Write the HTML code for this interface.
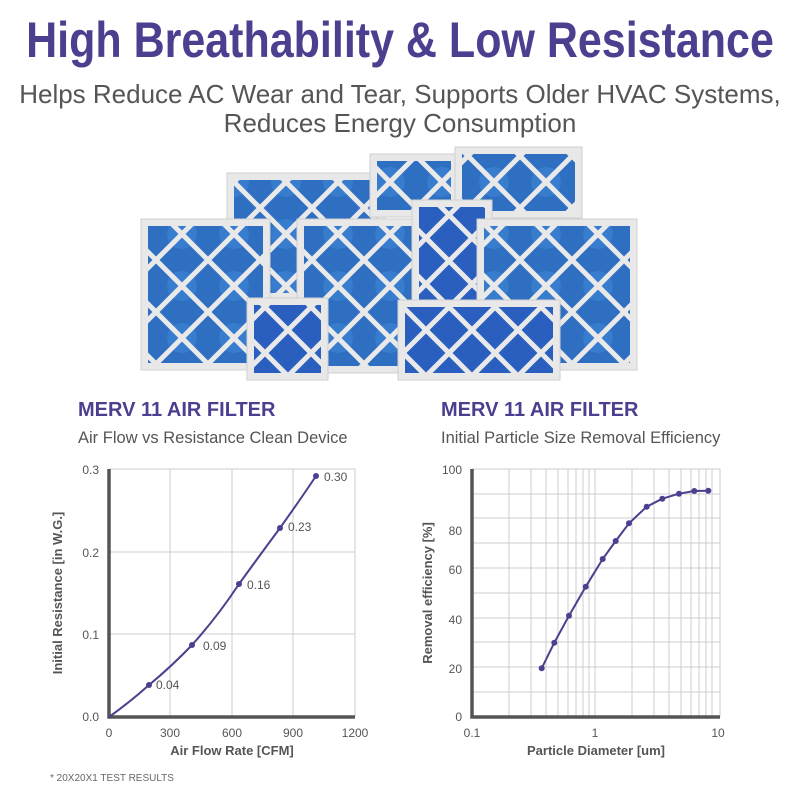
<!DOCTYPE html>
<html><head><meta charset="utf-8"><style>
body{margin:0;background:#fff;width:800px;height:800px;overflow:hidden;font-family:"Liberation Sans",sans-serif}
</style></head><body>
<svg width="800" height="800" xmlns="http://www.w3.org/2000/svg" font-family="Liberation Sans, sans-serif">
<defs>
<pattern id="lat" width="52" height="52" patternUnits="userSpaceOnUse">
<rect width="52" height="52" fill="#2f6fc2"/>
<circle cx="26" cy="26" r="15" fill="#3d86d6" opacity="0.6"/>
<path d="M0 0L52 52M52 0L0 52" stroke="#e9e9e9" stroke-width="5"/>
</pattern>
<pattern id="lat2" width="46" height="46" patternUnits="userSpaceOnUse" x="12" y="8">
<rect width="46" height="46" fill="#2a5fbf"/>
<path d="M0 0L46 46M46 0L0 46" stroke="#e9e9e9" stroke-width="5"/>
</pattern>
</defs>
<g transform="translate(400,57) scale(0.86,1)"><text x="0" y="0" text-anchor="middle" font-size="50" font-weight="bold" fill="#4b3f8f">High Breathability &amp; Low Resistance</text></g>
<text x="400" y="103" text-anchor="middle" font-size="26" fill="#555">Helps Reduce AC Wear and Tear, Supports Older HVAC Systems,</text>
<text x="400" y="132" text-anchor="middle" font-size="26" fill="#555">Reduces Energy Consumption</text>

<g stroke="#cfcfcf" stroke-width="1">
<rect x="227" y="173" width="158" height="127" fill="#e8e8e8"/><rect x="234" y="180" width="144" height="113" fill="url(#lat)" stroke="none"/>
<rect x="370" y="154" width="88" height="63" fill="#e8e8e8"/><rect x="377" y="161" width="74" height="49" fill="url(#lat)" stroke="none"/>
<rect x="455" y="147" width="127" height="71" fill="#e8e8e8"/><rect x="462" y="154" width="113" height="57" fill="url(#lat)" stroke="none"/>
<rect x="141" y="219" width="129" height="151" fill="#e8e8e8"/><rect x="148" y="226" width="115" height="137" fill="url(#lat)" stroke="none"/>
<rect x="297" y="219" width="128" height="154" fill="#e8e8e8"/><rect x="304" y="226" width="114" height="140" fill="url(#lat)" stroke="none"/>
<rect x="412" y="200" width="80" height="107" fill="#e8e8e8"/><rect x="419" y="207" width="66" height="93" fill="url(#lat2)" stroke="none"/>
<rect x="477" y="219" width="160" height="151" fill="#e8e8e8"/><rect x="484" y="226" width="146" height="137" fill="url(#lat)" stroke="none"/>
<rect x="247" y="298" width="81" height="82" fill="#e8e8e8"/><rect x="254" y="305" width="67" height="68" fill="url(#lat2)" stroke="none"/>
<rect x="398" y="300" width="162" height="80" fill="#e8e8e8"/><rect x="405" y="307" width="148" height="66" fill="url(#lat2)" stroke="none"/>
</g>

<text x="78" y="416" font-size="20" font-weight="bold" fill="#4b3f8f">MERV 11 AIR FILTER</text>
<text x="78" y="443" font-size="16.5" fill="#555">Air Flow vs Resistance Clean Device</text>
<text x="441" y="416" font-size="20" font-weight="bold" fill="#4b3f8f">MERV 11 AIR FILTER</text>
<text x="441" y="443" font-size="16.5" fill="#555">Initial Particle Size Removal Efficiency</text>

<!-- left chart -->
<g stroke="#ccc" stroke-width="1" fill="none">
<path d="M170 469V717M232 469V717M293 469V717M355 469V717M109 469H355M109 552H355M109 634H355"/>
</g>
<path d="M109 469V717H355" stroke="#555" stroke-width="3.5" fill="none"/>
<g font-size="12" fill="#555" text-anchor="end">
<text x="99" y="474">0.3</text><text x="99" y="557">0.2</text><text x="99" y="639">0.1</text><text x="99" y="721">0.0</text>
</g>
<g font-size="12" fill="#555" text-anchor="middle">
<text x="109" y="737">0</text><text x="170" y="737">300</text><text x="232" y="737">600</text><text x="293" y="737">900</text><text x="355" y="737">1200</text>
</g>
<text x="232" y="755" font-size="13" font-weight="bold" fill="#555" text-anchor="middle">Air Flow Rate [CFM]</text>
<text transform="translate(62,593) rotate(-90)" font-size="13" font-weight="bold" fill="#555" text-anchor="middle">Initial Resistance [in W.G.]</text>
<path d="M109 717Q130 702 149 685Q172 666 192 645Q218 616 239 584Q260 555 280 528Q300 500 316 476" stroke="#4b3f8f" stroke-width="2" fill="none"/>
<g fill="#4b3f8f"><circle cx="149" cy="685" r="3"/><circle cx="192" cy="645" r="3"/><circle cx="239" cy="584" r="3"/><circle cx="280" cy="528" r="3"/><circle cx="316" cy="476" r="3"/></g>
<g font-size="12" fill="#555"><text x="156" y="689">0.04</text><text x="203" y="650">0.09</text><text x="247" y="589">0.16</text><text x="288" y="531">0.23</text><text x="324" y="481">0.30</text></g>

<!-- right chart -->
<g stroke="#ccc" stroke-width="1" fill="none">
<path d="M509 469V717M531 469V717M546 469V717M558 469V717M568 469V717M576 469V717M583 469V717M589 469V717M595 469V717M632 469V717M654 469V717M669 469V717M681 469V717M691 469V717M699 469V717M706 469V717M712 469V717M720 469V717"/>
<path d="M472 469H720M472 494H720M472 518H720M472 543H720M472 568H720M472 593H720M472 618H720M472 642H720M472 667H720M472 692H720"/>
</g>
<path d="M472 469V717H720" stroke="#555" stroke-width="3.5" fill="none"/>
<g font-size="12" fill="#555" text-anchor="end">
<text x="462" y="474">100</text><text x="462" y="535">80</text><text x="462" y="574">60</text><text x="462" y="624">40</text><text x="462" y="673">20</text><text x="462" y="721">0</text>
</g>
<g font-size="12" fill="#555" text-anchor="middle"><text x="472" y="737">0.1</text><text x="595" y="737">1</text><text x="718" y="737">10</text></g>
<text x="596" y="755" font-size="13" font-weight="bold" fill="#555" text-anchor="middle">Particle Diameter [um]</text>
<text transform="translate(432,593) rotate(-90)" font-size="13" font-weight="bold" fill="#555" text-anchor="middle">Removal efficiency [%]</text>
<polyline points="541.7,668.3 554.3,642.7 569,615.7 585.7,586.7 602.7,559 615.7,541 629,523.3 646.7,506.7 662.3,498.7 679,493.7 694.3,491 708.3,490.7" stroke="#4b3f8f" stroke-width="2" fill="none" stroke-linejoin="round"/>
<g fill="#4b3f8f"><circle cx="541.7" cy="668.3" r="3"/><circle cx="554.3" cy="642.7" r="3"/><circle cx="569" cy="615.7" r="3"/><circle cx="585.7" cy="586.7" r="3"/><circle cx="602.7" cy="559" r="3"/><circle cx="615.7" cy="541" r="3"/><circle cx="629" cy="523.3" r="3"/><circle cx="646.7" cy="506.7" r="3"/><circle cx="662.3" cy="498.7" r="3"/><circle cx="679" cy="493.7" r="3"/><circle cx="694.3" cy="491" r="3"/><circle cx="708.3" cy="490.7" r="3"/></g>

<text x="50" y="781" font-size="10" fill="#666">*  20X20X1 TEST RESULTS</text>
</svg>
</body></html>
